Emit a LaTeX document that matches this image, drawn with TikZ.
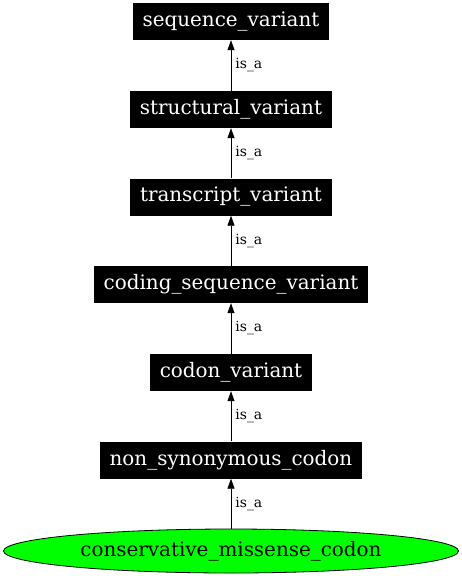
\documentclass[tikz,border=0pt]{standalone}
\usepackage{fontspec}
\setmainfont{DejaVu Serif}
\usetikzlibrary{arrows.meta,shapes.geometric}
\begin{document}
\begin{tikzpicture}[x=1bp,y=1bp,
  term/.style={rectangle,fill=black,text=white,inner xsep=9.5bp,inner ysep=0bp,minimum height=37bp,font=\fontsize{20}{23}\selectfont},
  leaf/.style={ellipse,draw=black,line width=0.8bp,fill={rgb,255:red,0;green,255;blue,0},minimum width=455bp,minimum height=44bp,inner sep=0bp,font=\fontsize{20}{23}\selectfont},
  isa/.style={draw=black,line width=0.8bp,-{Triangle[length=10bp,width=7bp]}},
  lbl/.style={font=\fontsize{14}{16}\selectfont,anchor=west,inner sep=0bp}]
\useasboundingbox (0,0) rectangle (462,-576);
\node[term] (sv) at (231,-21.5) {sequence\_variant};
\node[term] (stv) at (231,-109.5) {structural\_variant};
\node[term] (tv) at (231,-197) {transcript\_variant};
\node[term] (csv) at (231,-284.5) {coding\_sequence\_variant};
\node[term] (cv) at (231,-372.5) {codon\_variant};
\node[term] (nsc) at (231,-460) {non\_synonymous\_codon};
\node[leaf] (cmc) at (231,-551) {conservative\_missense\_codon};
\draw[isa] (stv) -- node[lbl,xshift=4bp] {is\_a} (sv);
\draw[isa] (tv) -- node[lbl,xshift=4bp] {is\_a} (stv);
\draw[isa] (csv) -- node[lbl,xshift=4bp] {is\_a} (tv);
\draw[isa] (cv) -- node[lbl,xshift=4bp] {is\_a} (csv);
\draw[isa] (nsc) -- node[lbl,xshift=4bp] {is\_a} (cv);
\draw[isa] (cmc) -- node[lbl,xshift=4bp] {is\_a} (nsc);
\end{tikzpicture}
\end{document}
